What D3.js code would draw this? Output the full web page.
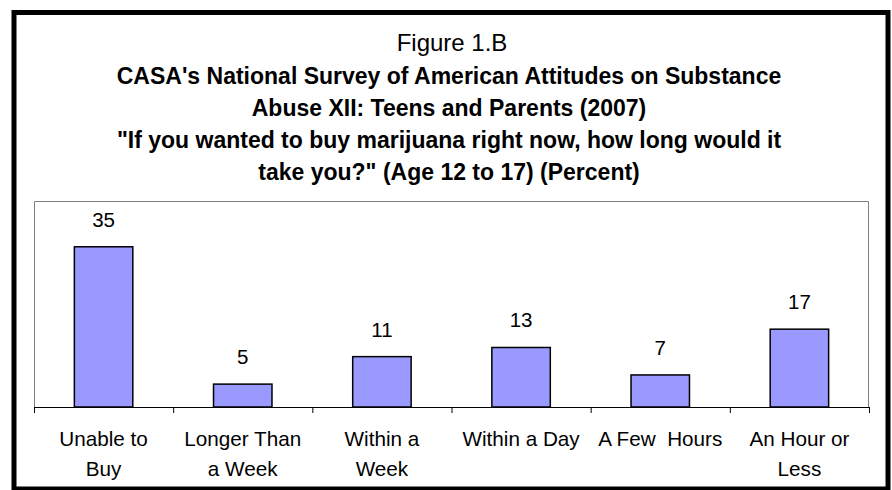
<!DOCTYPE html>
<html>
<head>
<meta charset="utf-8">
<script src="https://cdn.jsdelivr.net/npm/d3@7"></script>
<style>
  body { margin: 0; background: #fff; }
  svg text { font-family: "Liberation Sans", Arial, sans-serif; fill: #000; }
</style>
</head>
<body>
<div id="chart"></div>
<script>
// data
var categories = ["Unable to Buy", "Longer Than a Week", "Within a Week", "Within a Day", "A Few  Hours", "An Hour or Less"];
var labelLines = [["Unable to", "Buy"], ["Longer Than", "a Week"], ["Within a", "Week"], ["Within a Day"], ["A Few  Hours"], ["An Hour or", "Less"]];
var values = [35, 5, 11, 13, 7, 17];
var titleLines = [
    "CASA's National Survey of American Attitudes on Substance",
    "Abuse XII: Teens and Parents (2007)",
    "\"If you wanted to buy marijuana right now, how long would it",
    "take you?\" (Age 12 to 17) (Percent)"
];

var W = 892, H = 490;
var plot = { left: 34, right: 869, top: 201, bottom: 407 };

var svg = d3.select("#chart")
    .append("svg")
    .attr("width", W)
    .attr("height", H);

// outer frame
svg.append("rect")
    .attr("x", 14).attr("y", 12.5)
    .attr("width", 874).attr("height", 476.5)
    .attr("fill", "#fff")
    .attr("stroke", "#000")
    .attr("stroke-width", 5);

// titles
var cx = 449;
svg.append("text")
    .attr("x", 452).attr("y", 51)
    .attr("text-anchor", "middle")
    .style("font-size", "24px")
    .text("Figure 1.B");

svg.selectAll(".title")
    .data(titleLines)
    .enter().append("text")
    .attr("class", "title")
    .attr("x", cx)
    .attr("y", function (d, i) { return 83.5 + i * 32.3; })
    .attr("text-anchor", "middle")
    .style("font-size", "23px")
    .style("font-weight", "bold")
    .text(function (d) { return d; });

var x = d3.scaleBand()
    .domain(categories)
    .range([plot.left, plot.right])
    .padding(0);

var y = d3.scaleLinear()
    .domain([0, 45])
    .range([plot.bottom, plot.top]);

// plot area border (gray)
svg.append("path")
    .attr("d", "M" + (plot.left + 0.5) + "," + plot.bottom + "V" + (plot.top + 0.5) +
        "H" + (plot.right - 0.5) + "V" + plot.bottom)
    .attr("fill", "none")
    .attr("stroke", "#808080")
    .attr("stroke-width", 1);

var barW = x.bandwidth() * 0.42;

svg.selectAll(".bar")
    .data(values)
    .enter().append("rect")
    .attr("class", "bar")
    .attr("x", function (d, i) { return x(categories[i]) + (x.bandwidth() - barW) / 2; })
    .attr("y", function (d) { return y(d); })
    .attr("width", barW)
    .attr("height", function (d) { return y(0) - y(d); })
    .attr("fill", "#9999ff")
    .attr("stroke", "#000")
    .attr("stroke-width", 1.5);

svg.selectAll(".val")
    .data(values)
    .enter().append("text")
    .attr("class", "val")
    .attr("x", function (d, i) { return x(categories[i]) + x.bandwidth() / 2; })
    .attr("y", function (d) { return y(d) - 20; })
    .attr("text-anchor", "middle")
    .style("font-size", "20.5px")
    .text(function (d) { return d; });

// axis with ticks at category boundaries
var bounds = d3.scaleLinear().domain([0, categories.length]).range([plot.left, plot.right]);
var axis = svg.append("g")
    .attr("transform", "translate(0," + plot.bottom + ")")
    .call(d3.axisBottom(bounds)
        .tickValues(d3.range(categories.length + 1))
        .tickFormat("")
        .tickSizeInner(6)
        .tickSizeOuter(0));
axis.select(".domain").attr("stroke", "#000");
axis.selectAll(".tick line").attr("stroke", "#000");

var catLabels = svg.selectAll(".cat")
    .data(labelLines)
    .enter().append("text")
    .attr("class", "cat")
    .attr("text-anchor", "middle")
    .style("font-size", "20.7px");

catLabels.selectAll("tspan")
    .data(function (d, i) { return d.map(function (t) { return { t: t, i: i }; }); })
    .enter().append("tspan")
    .attr("x", function (d) { return x(categories[d.i]) + x.bandwidth() / 2; })
    .attr("y", function (d, j) { return 446 + j * 29.5; })
    .attr("xml:space", "preserve")
    .style("white-space", "pre")
    .text(function (d) { return d.t; });
</script>
</body>
</html>
